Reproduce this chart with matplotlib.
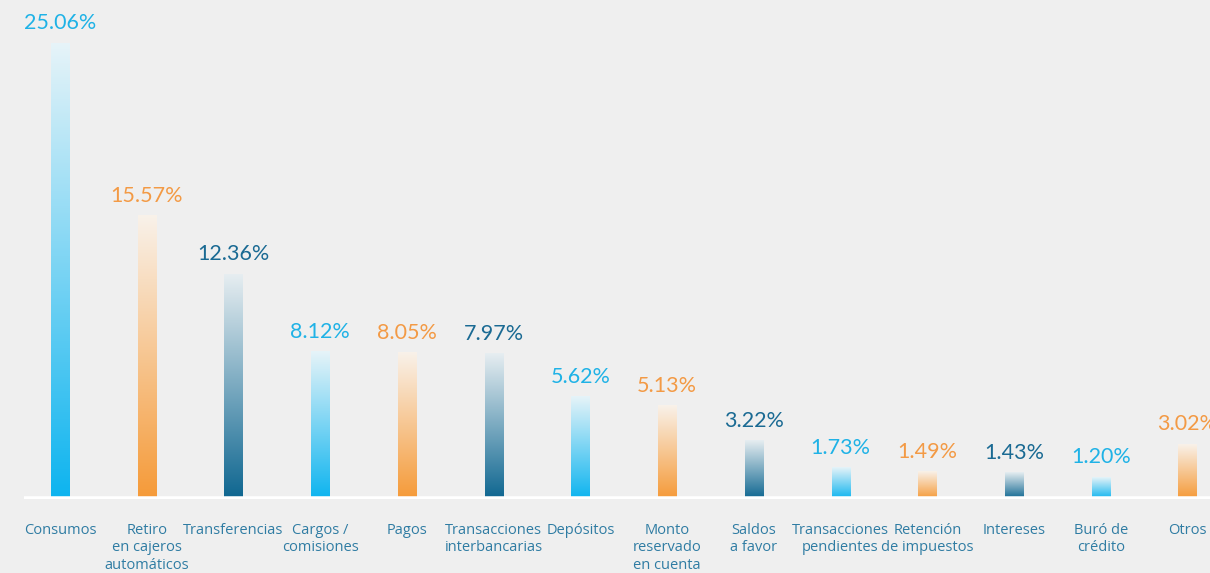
import numpy as np
import matplotlib
matplotlib.use('Agg')
import matplotlib.pyplot as plt
from matplotlib.colors import to_rgb

# data
categories = ['Consumos', 'Retiro\nen cajeros\nautomáticos', 'Transferencias', 'Cargos /\ncomisiones',
              'Pagos', 'Transacciones\ninterbancarias', 'Depósitos', 'Monto\nreservado\nen cuenta',
              'Saldos\na favor', 'Transacciones\npendientes', 'Retención\nde impuestos', 'Intereses',
              'Buró de\ncrédito', 'Otros']
values = [25.06, 15.57, 12.36, 8.12, 8.05, 7.97, 5.62, 5.13, 3.22, 1.73, 1.49, 1.43, 1.20, 3.02]
labels = ['25.06%', '15.57%', '12.36%', '8.12%', '8.05%', '7.97%', '5.62%', '5.13%', '3.22%',
          '1.73%', '1.49%', '1.43%', '1.20%', '3.02%']

bg = '#efefef'
palette = ['#0db4ef', '#f59a38', '#0e6690']
text_colors = ['#1fb2e6', '#f39a45', '#1a6a93']
cat_color = '#2f7ca3'

fig = plt.figure(figsize=(12.1, 5.73), dpi=100, facecolor=bg)
ax = fig.add_axes([24/1210, 74/573, 1186/1210, 499/573])
ax.set_facecolor(bg)

x = np.arange(len(values))
bw = 18/86.7
bars = ax.bar(x, values, width=bw, color='none', zorder=2)

bgc = np.array(to_rgb(bg))
for i, b in enumerate(bars):
    c = np.array(to_rgb(palette[i % 3]))
    t = np.linspace(0.08, 1, 200)[:, None]   # 1 at bottom, faded at top
    grad = bgc + (c - bgc) * t
    grad = np.minimum(grad + (1 - t) * 0.04, 1)
    img = np.repeat(grad[:, None, :], 2, axis=1)
    ax.imshow(img, extent=(b.get_x(), b.get_x() + b.get_width(), 0, b.get_height()),
              origin='upper', aspect='auto', zorder=2, interpolation='bilinear')
    ax.annotate(labels[i], (b.get_x() + b.get_width()/2, b.get_height()),
                xytext=(0, 7), textcoords='offset points', ha='center', va='bottom',
                fontsize=15.5, color=text_colors[i % 3], family='Lato', zorder=5,
                annotation_clip=False)
    ax.annotate(categories[i], (x[i], 0), xytext=(0, -17), textcoords='offset points',
                ha='center', va='top', fontsize=10.5, color=cat_color, family='Open Sans',
                linespacing=1.25, annotation_clip=False)

ax.axhline(0, color='white', lw=4, zorder=3)
ax.set_xlim(-36/86.7, 13.26)
ax.set_ylim(0, 25.06*499/456)
ax.axis('off')

plt.savefig('out.png', dpi=100, facecolor=bg)
